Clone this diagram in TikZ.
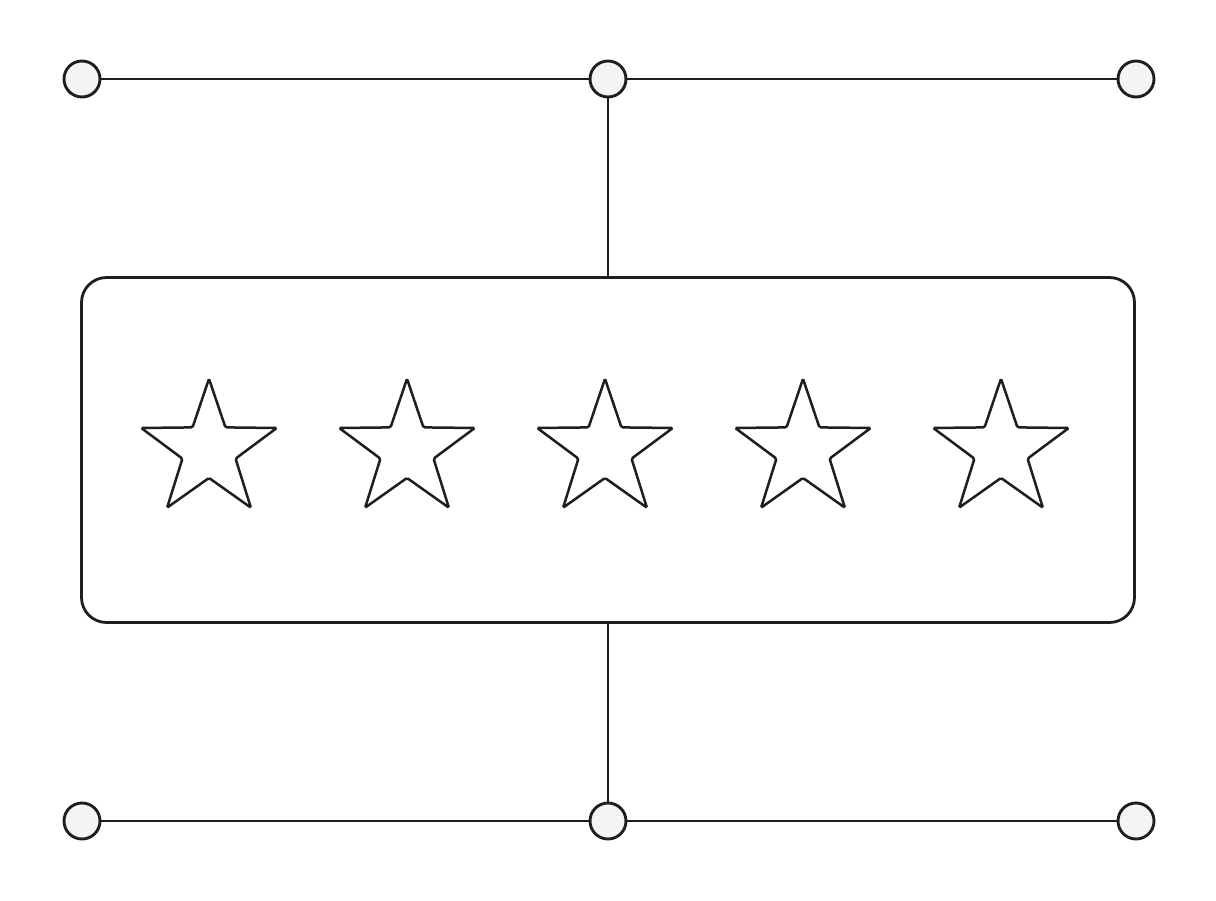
\documentclass[tikz,border=0pt]{standalone}
\usetikzlibrary{shapes.geometric}
\definecolor{ink}{HTML}{1E1E1E}
\definecolor{dotfill}{HTML}{F4F4F4}
\tikzset{
  x=1pt, y=-1pt,
  wire/.style={draw=ink, line width=2.6pt},
  dot/.style={circle, draw=ink, fill=dotfill, line width=2.9pt, minimum size=36pt, inner sep=0pt},
  panel/.style={draw=ink, line width=2.8pt, rounded corners=25pt},
  starshape/.style={star, star points=5, star point ratio=2.55, minimum size=142.5pt, inner sep=0pt, draw=ink, line width=2.5pt, rounded corners=1.5pt, anchor=center}
}
\begin{document}
\begin{tikzpicture}
\useasboundingbox (0,0) rectangle (1216,900);
\fill[white] (0,0) rectangle (1216,900);
% panel
\node[panel, minimum width=1053pt, minimum height=345pt, inner sep=0pt] (box) at (608,450) {};
% circles
\node[dot] (tl) at (82,79) {};
\node[dot] (tm) at (608,79) {};
\node[dot] (tr) at (1136,79) {};
\node[dot] (bl) at (82,821) {};
\node[dot] (bm) at (608,821) {};
\node[dot] (br) at (1136,821) {};
% connectors
\draw[wire] (tl) -- (tm);
\draw[wire] (tm) -- (tr);
\draw[wire] (bl) -- (bm);
\draw[wire] (bm) -- (br);
\draw[wire] (tm) -- (tm |- box.north);
\draw[wire] (bm) -- (bm |- box.south);
% stars
\foreach \i/\cx in {1/209,2/407,3/605,4/803,5/1001}{
  \node[starshape] (s\i) at (\cx,450) {};
}
\end{tikzpicture}
\end{document}
